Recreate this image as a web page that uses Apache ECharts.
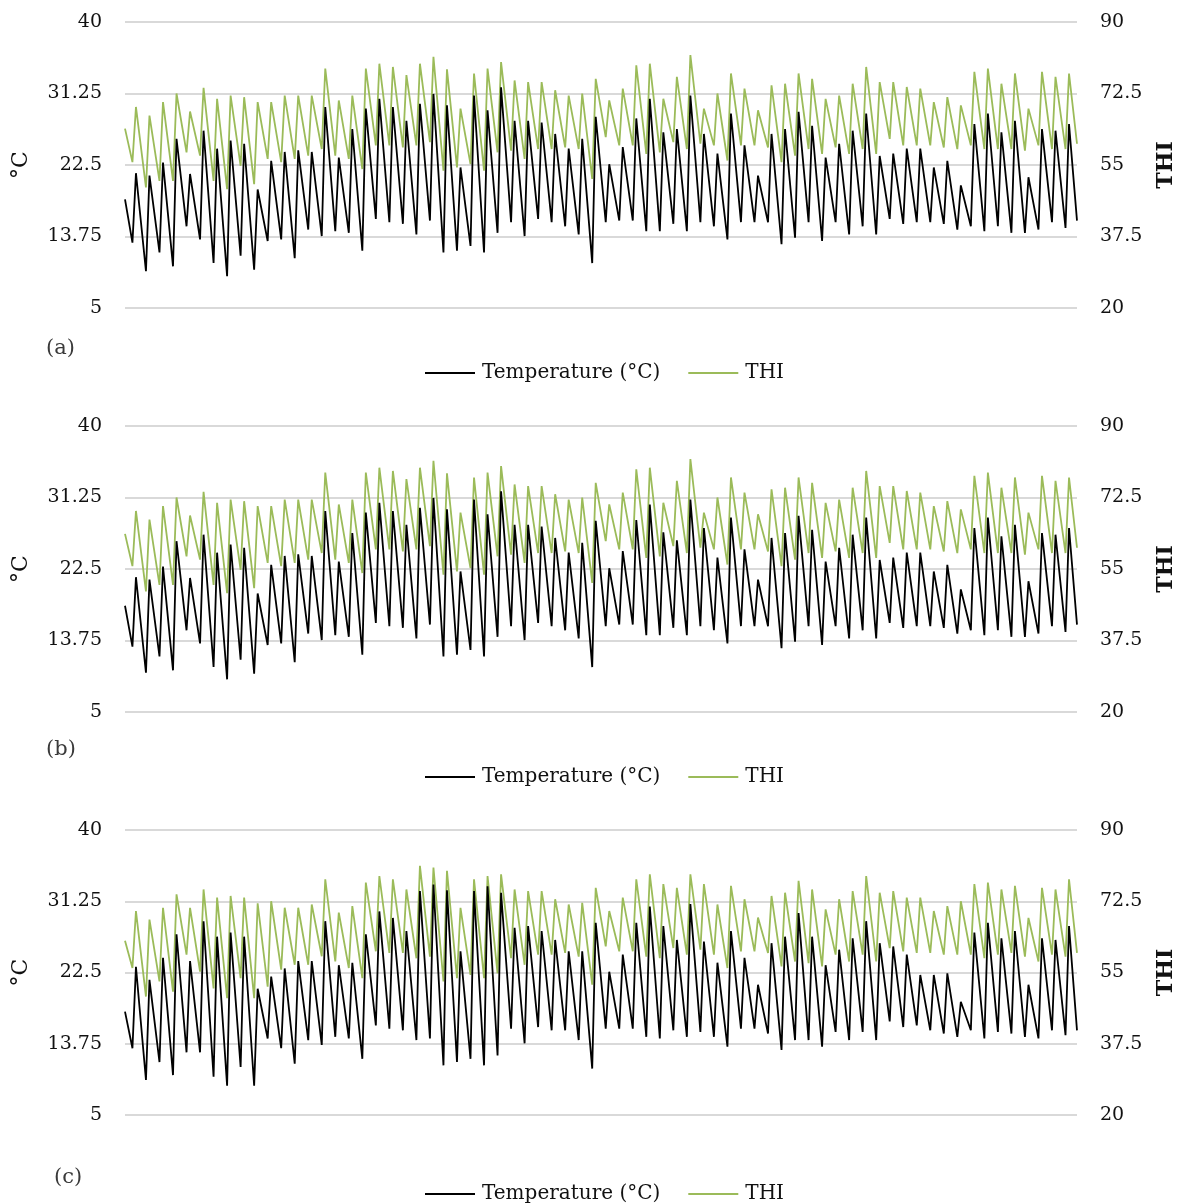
<!DOCTYPE html>
<html>
<head>
<meta charset="utf-8">
<script src="https://cdn.jsdelivr.net/npm/echarts@6/dist/echarts.min.js"></script>
<style>
html,body{margin:0;padding:0;background:#fff;}
#chart{width:1189px;height:1203px;}
</style>
</head>
<body>
<div id="chart"></div>
<script>
// ---- Data (daily minima / maxima, 70 daily cycles) ----
const panelLabels = ['(a)', '(b)', '(c)'];
const seriesNames = ['Temperature (°C)', 'THI'];
const tempTicks = [5, 13.75, 22.5, 31.25, 40];
const thiTicks = [20, 37.5, 55, 72.5, 90];
const spanDays = 70.4;

// Panel (a)
const tStartA = 18.3, tEndA = 15.7, hStartA = 63.9, hEndA = 60.2;
const tMinA = [13.0,9.5,11.8,10.1,15.0,13.4,10.5,8.9,11.4,9.7,13.2,13.4,11.1,14.6,13.8,14.4,14.2,12.0,15.9,15.5,15.3,14.0,15.7,11.8,12.0,12.6,11.8,14.2,15.5,13.8,15.9,15.5,15.0,14.0,10.5,15.5,15.7,15.7,14.4,14.4,15.3,14.4,15.5,15.0,13.4,15.5,15.5,15.5,12.8,13.6,15.5,13.2,15.5,14.0,15.0,14.0,15.9,15.3,15.5,15.5,15.3,14.6,15.0,14.4,15.0,14.2,14.2,14.6,15.5,14.8];
const tMaxA = [21.5,21.2,22.8,25.7,21.4,26.7,24.5,25.5,25.1,19.5,23.0,24.1,24.3,24.1,29.6,23.4,26.9,29.4,30.6,29.6,27.9,30.0,31.2,29.8,22.2,31.0,29.2,32.0,27.9,27.9,27.7,26.3,24.5,25.7,28.4,22.6,24.7,28.2,30.6,26.5,26.9,31.0,26.3,23.9,28.8,24.9,21.2,26.3,26.9,29.0,27.3,23.4,25.1,26.7,28.8,23.6,23.9,24.5,24.5,22.2,23.0,20.0,27.5,28.8,26.5,27.9,21.0,26.9,26.7,27.5];
const hMinA = [55.7,49.5,51.1,51.1,58.1,57.3,51.1,49.1,54.8,50.3,56.5,55.7,56.5,57.3,58.9,57.3,56.5,54.0,59.8,59.8,59.3,59.8,60.6,53.6,54.4,55.2,53.6,58.1,58.5,56.5,58.9,58.9,59.3,58.9,51.6,61.8,59.8,59.8,57.7,58.1,60.6,58.9,60.2,59.8,56.1,59.8,59.8,59.3,55.7,57.3,58.9,57.7,59.3,57.7,58.9,57.7,61.4,59.8,59.8,59.8,59.3,58.9,59.8,58.9,58.9,58.9,58.5,59.8,58.9,58.9];
const hMaxA = [69.2,67.1,70.4,72.5,68.1,73.9,71.2,72.0,71.6,70.4,70.4,72.0,72.0,72.0,78.6,70.8,72.0,78.6,79.8,79.0,77.0,79.8,81.5,78.4,68.8,77.4,78.6,80.2,75.7,75.3,75.3,73.3,72.0,72.5,76.1,70.8,73.7,79.4,79.8,71.2,76.6,81.9,68.8,72.5,77.4,73.7,68.4,74.5,74.9,77.4,76.1,71.2,72.0,74.9,79.0,75.3,75.3,74.1,73.7,70.4,71.6,69.6,77.8,78.6,74.9,77.4,68.8,77.8,76.6,77.4];

// Panel (b)
const tStartB = 18.0, tEndB = 15.7, hStartB = 63.6, hEndB = 60.2;
const tMinB = [13.0,9.8,11.8,10.1,15.0,13.4,10.5,9.0,11.4,9.7,13.2,13.4,11.1,14.6,13.8,14.4,14.2,12.0,15.9,15.5,15.3,14.0,15.7,11.8,12.0,12.6,11.8,14.2,15.5,13.8,15.9,15.5,15.0,14.0,10.5,15.5,15.7,15.7,14.4,14.4,15.3,14.4,15.5,15.0,13.4,15.5,15.5,15.5,12.8,13.6,15.5,13.2,15.5,14.0,15.0,14.0,15.9,15.3,15.5,15.5,15.3,14.6,15.0,14.4,15.0,14.2,14.2,14.6,15.5,14.8];
const tMaxB = [21.5,21.2,22.8,25.9,21.4,26.7,24.5,25.5,25.1,19.5,23.0,24.1,24.3,24.1,29.6,23.4,26.9,29.4,30.6,29.6,27.9,30.0,31.2,29.8,22.2,31.0,29.2,32.0,27.9,27.9,27.7,26.3,24.5,25.7,28.4,22.6,24.7,28.5,30.4,27.0,26.0,31.0,27.5,23.9,28.8,24.9,21.2,26.3,26.9,29.0,27.3,23.4,25.1,26.7,28.8,23.6,23.9,24.5,24.5,22.2,23.0,20.0,27.5,28.8,26.5,27.9,21.0,26.9,26.7,27.5];
const hMinB = [55.7,49.5,51.1,51.1,58.1,57.3,51.1,49.1,54.8,50.3,56.5,55.7,56.5,57.3,58.9,57.3,56.5,54.0,59.8,59.8,59.3,59.8,60.6,53.6,54.4,55.2,53.6,58.1,58.5,56.5,58.9,58.9,59.3,58.9,51.6,61.8,59.8,59.8,57.7,58.1,60.6,58.9,60.2,59.8,56.1,59.8,59.8,59.3,55.7,57.3,58.9,57.7,59.3,57.7,58.9,57.7,61.4,59.8,59.8,59.8,59.3,58.9,59.8,58.9,58.9,58.9,58.5,59.8,58.9,58.9];
const hMaxB = [69.2,67.1,70.4,72.5,68.1,73.9,71.2,72.0,71.6,70.4,70.4,72.0,72.0,72.0,78.6,70.8,72.0,78.6,79.8,79.0,77.0,79.8,81.5,78.4,68.8,77.4,78.6,80.2,75.7,75.3,75.3,73.3,72.0,72.5,76.1,70.8,73.7,79.4,79.8,71.2,76.6,81.9,68.8,72.5,77.4,73.7,68.4,74.5,74.9,77.4,76.1,71.2,72.0,74.9,79.0,75.3,75.3,74.1,73.7,70.4,71.6,69.6,77.8,78.6,74.9,77.4,68.8,77.8,76.6,77.4];

// Panel (c)
const tStartC = 17.7, tEndC = 15.4, hStartC = 62.8, hEndC = 59.8;
const tMinC = [13.2,9.3,11.5,9.9,12.7,12.7,9.7,8.6,10.9,8.6,14.4,13.2,11.3,14.2,13.6,14.6,14.4,11.9,16.0,15.6,15.4,14.2,14.4,11.1,11.5,11.9,11.1,12.3,15.6,13.8,15.8,15.4,15.4,14.2,10.7,15.6,15.6,15.6,14.6,14.4,15.4,14.6,15.2,14.6,13.4,15.6,15.6,15.0,13.0,14.2,14.2,13.4,15.2,14.2,15.2,14.2,16.5,15.8,16.0,15.4,15.0,14.6,15.4,14.4,15.2,15.0,14.6,14.4,15.4,14.8];
const tMaxC = [23.2,21.6,24.3,27.2,23.9,28.8,26.9,27.4,26.9,20.5,22.0,23.0,23.9,23.9,28.8,23.4,23.7,27.2,30.0,29.2,27.6,32.5,33.3,32.6,25.1,32.5,33.1,32.3,28.0,28.2,27.6,26.5,25.1,25.1,28.6,22.6,24.7,28.6,30.6,28.2,26.5,30.9,26.3,23.7,27.6,24.3,21.0,26.1,26.9,29.8,26.9,23.4,25.3,26.7,28.8,26.1,25.7,24.7,22.2,22.2,22.4,18.9,27.4,28.6,26.7,27.6,21.0,26.7,26.5,28.2];
const hMinC = [56.1,49.1,52.8,50.3,59.4,55.2,51.1,48.7,53.6,48.7,51.5,55.7,56.9,56.9,59.0,57.7,56.1,53.6,60.2,59.8,59.8,58.5,58.9,52.8,53.6,54.4,53.6,54.8,58.5,56.9,59.4,59.4,59.8,58.9,52.0,61.4,60.2,60.2,58.9,58.5,61.0,59.4,60.6,59.4,56.1,60.2,60.2,59.8,56.5,57.7,57.3,56.5,59.4,57.7,59.4,57.7,61.0,60.2,59.8,59.8,59.4,59.4,59.4,58.5,59.4,59.8,58.9,57.7,59.4,58.9];
const hMaxC = [70.1,68.0,70.9,74.2,70.9,75.4,73.4,73.8,73.4,72.0,72.5,70.9,70.9,71.7,77.9,69.7,71.3,77.1,78.7,77.9,75.4,81.2,80.8,80.0,70.9,77.9,78.7,79.1,75.4,75.0,75.0,73.0,71.7,72.1,75.8,70.1,73.4,77.9,79.1,76.7,75.8,79.1,76.7,71.7,76.3,73.0,68.5,73.8,74.6,77.5,75.4,70.5,73.0,75.0,78.7,74.6,75.0,73.4,73.4,70.1,71.3,72.5,76.7,77.1,75.4,76.3,68.4,75.8,75.4,77.9];

// ---- Build (time in days; minimum shortly before the afternoon peak) ----
const MIN_AT = 0.55, MAX_AT = 0.81;
function cycle(start, mins, maxs, end) {
  const pts = [[0, start]];
  for (let i = 0; i < mins.length; i++) {
    pts.push([i + MIN_AT, mins[i]]);
    pts.push([i + MAX_AT, maxs[i]]);
  }
  pts.push([spanDays, end]);
  return pts;
}

const panels = [
  { t: cycle(tStartA, tMinA, tMaxA, tEndA), h: cycle(hStartA, hMinA, hMaxA, hEndA) },
  { t: cycle(tStartB, tMinB, tMaxB, tEndB), h: cycle(hStartB, hMinB, hMaxB, hEndB) },
  { t: cycle(tStartC, tMinC, tMaxC, tEndC), h: cycle(hStartC, hMinC, hMaxC, hEndC) }
];

// ---- Layout ----
const FONT = 'DejaVu Serif';
const gridTops = [22, 426, 830];
const gridH = [286, 286, 285];
const legendTops = [358, 762, 1179];
const labelPos = [[41, 333], [41, 734], [49, 1162]];

const grid = [], xAxis = [], yAxis = [], series = [], legend = [], title = [];
panels.forEach((p, k) => {
  grid.push({ left: 125, right: 112, top: gridTops[k], height: gridH[k] });
  xAxis.push({ type: 'value', gridIndex: k, min: 0, max: spanDays, show: false });
  yAxis.push({
    type: 'value', gridIndex: k, min: tempTicks[0], max: tempTicks[4], interval: 8.75,
    name: '°C', nameLocation: 'middle', nameRotate: 90, nameGap: 93,
    nameTextStyle: { fontFamily: FONT, fontSize: 22, color: '#111' },
    axisLine: { show: false }, axisTick: { show: false },
    axisLabel: { fontFamily: FONT, fontSize: 19, color: '#111', margin: 23,
      customValues: tempTicks, formatter: v => String(v) },
    splitLine: { show: true, lineStyle: { color: '#d9d9d9', width: 2 } }
  });
  yAxis.push({
    type: 'value', gridIndex: k, position: 'right', min: thiTicks[0], max: thiTicks[4], interval: 17.5,
    name: 'THI', nameLocation: 'middle', nameRotate: 90, nameGap: 78,
    nameTextStyle: { fontFamily: FONT, fontSize: 22, color: '#111', fontWeight: 'bold' },
    axisLine: { show: false }, axisTick: { show: false },
    axisLabel: { fontFamily: FONT, fontSize: 19, color: '#111', margin: 23,
      customValues: thiTicks, formatter: v => String(v) },
    splitLine: { show: false }
  });
  series.push({
    name: seriesNames[1], type: 'line', xAxisIndex: k, yAxisIndex: 2 * k + 1,
    data: p.h, symbol: 'none', smooth: false, z: 2,
    lineStyle: { color: '#9bbb59', width: 1.8 }, itemStyle: { color: '#9bbb59' }
  });
  series.push({
    name: seriesNames[0], type: 'line', xAxisIndex: k, yAxisIndex: 2 * k,
    data: p.t, symbol: 'none', smooth: false, z: 3,
    lineStyle: { color: '#000000', width: 1.8 }, itemStyle: { color: '#000000' }
  });
  legend.push({
    top: legendTops[k], left: 420, data: seriesNames, itemWidth: 50, itemHeight: 14, itemGap: 28,
    icon: 'path://M0,6 L50,6 L50,8 L0,8 Z',
    textStyle: { fontFamily: FONT, fontSize: 20, color: '#111', padding: [0, 0, 0, 2] },
    selectedMode: false
  });
  title.push({ text: panelLabels[k], left: labelPos[k][0], top: labelPos[k][1],
    textStyle: { fontFamily: FONT, fontSize: 21, fontWeight: 'normal', color: '#3a3a3a' } });
});

const chart = echarts.init(document.getElementById('chart'), null, { renderer: 'canvas' });
chart.setOption({
  animation: false,
  backgroundColor: '#ffffff',
  title, legend, grid, xAxis, yAxis, series
});
</script>
</body>
</html>
